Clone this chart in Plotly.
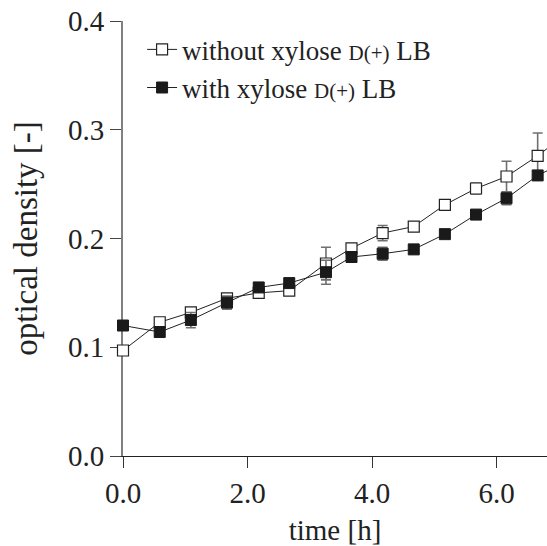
import plotly.graph_objects as go

time_h = [0.0, 0.59, 1.09, 1.67, 2.18, 2.67, 3.26, 3.67, 4.17, 4.67, 5.17, 5.67, 6.16, 6.66, 7.16]
od_without = [0.097, 0.123, 0.132, 0.145, 0.150, 0.152, 0.177, 0.191, 0.205, 0.211, 0.231, 0.246, 0.257, 0.276, 0.298]
err_without = [0.002, 0.003, 0.003, 0.004, 0.002, 0.002, 0.015, 0.004, 0.007, 0.002, 0.002, 0.005, 0.014, 0.021, 0.020]
od_with = [0.120, 0.114, 0.125, 0.141, 0.155, 0.159, 0.169, 0.183, 0.186, 0.190, 0.204, 0.222, 0.237, 0.258, 0.272]
err_with = [0.002, 0.004, 0.007, 0.006, 0.002, 0.003, 0.011, 0.003, 0.006, 0.003, 0.002, 0.003, 0.006, 0.004, 0.005]

x_ticks = [0, 2, 4, 6]
y_ticks = [0.0, 0.1, 0.2, 0.3, 0.4]

FONT = "'Liberation Serif', 'DejaVu Serif', serif"
small = "<span style='font-size:21px'>D(+)</span>"

fig = go.Figure()
fig.add_trace(go.Scatter(
    x=time_h, y=od_without, mode="lines+markers",
    name="without xylose " + small + " LB",
    line=dict(color="#222", width=1),
    marker=dict(symbol="square", size=11, color="white", line=dict(color="#222", width=1.2)),
    error_y=dict(type="data", array=err_without, color="#707070", thickness=1.6, width=5),
    cliponaxis=False,
))
fig.add_trace(go.Scatter(
    x=time_h, y=od_with, mode="lines+markers",
    name="with xylose " + small + " LB",
    line=dict(color="#222", width=1),
    marker=dict(symbol="square", size=11, color="#1a1a1a", line=dict(color="#1a1a1a", width=1)),
    error_y=dict(type="data", array=err_with, color="#707070", thickness=1.6, width=5),
    cliponaxis=False,
))

fig.update_layout(
    width=547, height=546,
    margin=dict(l=123, r=0, t=21, b=90),
    paper_bgcolor="white", plot_bgcolor="white",
    font=dict(family=FONT, size=29, color="#222"),
    showlegend=True,
    legend=dict(x=0.045, y=0.99, xanchor="left", yanchor="top",
                bgcolor="rgba(0,0,0,0)", font=dict(family=FONT, size=27), tracegroupgap=0),
    xaxis=dict(
        range=[0, 6.81], tickvals=x_ticks, tickformat=".1f",
        tickfont=dict(family=FONT, size=29),
        showgrid=False, zeroline=False, showline=True, linecolor="#222", linewidth=1,
        ticks="outside", ticklen=11, tickcolor="#333", tickwidth=1,
        title=dict(text="time [h]", font=dict(family=FONT, size=29), standoff=12),
        layer="below traces",
    ),
    yaxis=dict(
        range=[0, 0.4], tickvals=y_ticks, tickformat=".1f",
        tickfont=dict(family=FONT, size=29),
        showgrid=False, zeroline=False, showline=True, linecolor="#808080", linewidth=2,
        ticks="outside", ticklen=11, tickcolor="#444", tickwidth=1,
        title=dict(text="optical density [-]", font=dict(family=FONT, size=33), standoff=20),
        layer="below traces",
    ),
)

fig.write_html("out.html")
